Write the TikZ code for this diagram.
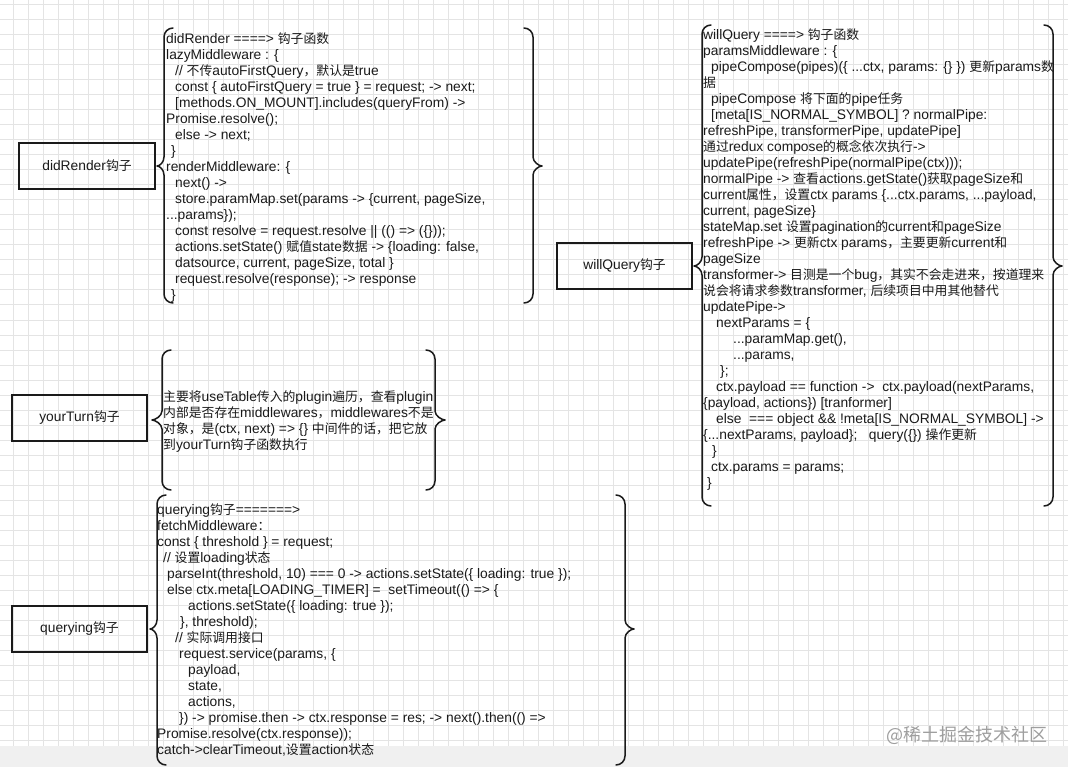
\documentclass[tikz,border=0pt]{standalone}
\usepackage{fontspec}
\setmainfont{Liberation Sans}
\newfontfamily\cjkf[Scale=0.93]{Noto Sans CJK SC}
\newfontfamily\wmf{Noto Sans CJK SC}
\newcommand\zh[1]{{\cjkf #1}}
\newcommand\fl{\rule{0pt}{13pt}}
\newcommand\ind[1]{\hspace*{#1pt}}
\definecolor{gridc}{HTML}{E4E4E4}
\definecolor{bandc}{HTML}{F0F0F0}
\definecolor{inkc}{HTML}{1A1A1A}
% curly brackets: xv, top, bottom, tip y, tip x
\newcommand\bracel[5]{%
  \draw[brace] (#1+9,#2) .. controls (#1+4,#2) and (#1,#2+4) .. (#1,#2+9) -- (#1,#4-9)
    .. controls (#1,#4-4) and (#5+3,#4) .. (#5,#4) .. controls (#5+3,#4) and (#1,#4+4) .. (#1,#4+9)
    -- (#1,#3-9) .. controls (#1,#3-4) and (#1+4,#3) .. (#1+9,#3);}
\newcommand\bracer[5]{%
  \draw[brace] (#1-9,#2) .. controls (#1-4,#2) and (#1,#2+4) .. (#1,#2+9) -- (#1,#4-9)
    .. controls (#1,#4-4) and (#5-3,#4) .. (#5,#4) .. controls (#5-3,#4) and (#1,#4+4) .. (#1,#4+9)
    -- (#1,#3-9) .. controls (#1,#3-4) and (#1-4,#3) .. (#1-9,#3);}
\tikzset{
  hookbox/.style={draw=inkc, line width=1.7pt, minimum width=135.5pt, minimum height=46.5pt,
    inner sep=0pt, font=\fontsize{13.8}{16}\selectfont, text=inkc},
  codeblock/.style={anchor=north west, inner sep=0pt, align=left,
    font=\fontsize{13.8}{16}\selectfont, text=inkc},
  brace/.style={draw=inkc, line width=1.5pt, line join=round, line cap=round},
  wm/.style={font=\wmf\fontsize{18}{20}\selectfont, text=black!38, inner sep=0pt},
}
\begin{document}
\begin{tikzpicture}[x=1pt,y=-1pt]
\useasboundingbox (0,0) rectangle (1068,767);
\fill[white] (0,0) rectangle (1068,767);
% grid
\foreach \gx in {13,28,...,1068} \draw[gridc, line width=1pt] (\gx,0) -- (\gx,767);
\foreach \gy in {5,20,...,767} \draw[gridc, line width=1pt] (0,\gy) -- (1068,\gy);
\fill[bandc] (0,746) rectangle (1068,767);

% hook boxes
\node[hookbox] (didbox) at (87,166) {didRender\zh{钩子}};
\node[hookbox] (yourbox) at (79.5,418) {yourTurn\zh{钩子}};
\node[hookbox] (querybox) at (79.5,629) {querying\zh{钩子}};
\node[hookbox] (willbox) at (624.5,266) {willQuery\zh{钩子}};

% braces
\bracel{164}{28}{303}{166}{157}
\bracer{533}{28}{303}{166}{542}
\bracel{162}{350}{490}{420}{152}
\bracer{435}{350}{490}{420}{445}
\bracel{157}{495}{765}{629}{150}
\bracer{625}{495}{765}{629}{634}
\bracel{702}{25}{506}{266}{694}
\bracer{1053}{25}{506}{266}{1062}

% text blocks
\node[codeblock] (didtext) at (166,30) {\fl didRender ====> \zh{钩子函数}\\
lazyMiddleware : \{\\
\ind{9}// \zh{不传}autoFirstQuery\zh{，默认是}true\\
\ind{9}const \{ autoFirstQuery = true \} = request; -> next;\\
\ind{9}{[}methods.ON\_MOUNT].includes(queryFrom) ->\\
Promise.resolve();\\
\ind{9}else -> next;\\
\ind{5}\}\\
renderMiddleware: \{\\
\ind{9}next() ->\\
\ind{9}store.paramMap.set(params -> \{current, pageSize,\\
...params\});\\
\ind{9}const resolve = request.resolve || (() => (\{\}));\\
\ind{9}actions.setState() \zh{赋值}state\zh{数据} -> \{loading: false,\\
\ind{9}datsource, current, pageSize, total \}\\
\ind{9}request.resolve(response); -> response\\
\ind{5}\}};

\node[codeblock] (yourtext) at (163,388.5) {\fl\zh{主要将}useTable\zh{传入的}plugin\zh{遍历，查看}plugin\\
\zh{内部是否存在}middlewares\zh{，}middlewares\zh{不是}\\
\zh{对象，是}(ctx, next) => \{\} \zh{中间件的话，把它放}\\
\zh{到}yourTurn\zh{钩子函数执行}};

\node[codeblock] (querytext) at (157,501) {\fl querying\zh{钩子}=======>\\
fetchMiddleware\zh{：}\\
const \{ threshold \} = request;\\
\ind{6}// \zh{设置}loading\zh{状态}\\
\ind{10}parseInt(threshold, 10) === 0 -> actions.setState(\{ loading: true \});\\
\ind{10}else ctx.meta[LOADING\_TIMER] = \ setTimeout(() => \{\\
\ind{31}actions.setState(\{ loading: true \});\\
\ind{23}\}, threshold);\\
\ind{18}// \zh{实际调用接口}\\
\ind{22}request.service(params, \{\\
\ind{31}payload,\\
\ind{31}state,\\
\ind{31}actions,\\
\ind{22}\}) -> promise.then -> ctx.response = res; -> next().then(() =>\\
Promise.resolve(ctx.response));\\
catch->clearTimeout,\zh{设置}action\zh{状态}};

\node[codeblock] (willtext) at (703,26) {\fl willQuery ====> \zh{钩子函数}\\
paramsMiddleware : \{\\
\ind{8}pipeCompose(pipes)(\{ ...ctx, params: \{\} \}) \zh{更新}params\zh{数}\\
\zh{据}\\
\ind{8}pipeCompose \zh{将下面的}pipe\zh{任务}\\
\ind{8}[meta[IS\_NORMAL\_SYMBOL] ? normalPipe:\\
refreshPipe, transformerPipe, updatePipe]\\
\zh{通过}redux compose\zh{的概念依次执行}->\\
updatePipe(refreshPipe(normalPipe(ctx)));\\
normalPipe -> \zh{查看}actions.getState()\zh{获取}pageSize\zh{和}\\
current\zh{属性，设置}ctx params \{...ctx.params, ...payload,\\
current, pageSize\}\\
stateMap.set \zh{设置}pagination\zh{的}current\zh{和}pageSize\\
refreshPipe -> \zh{更新}ctx params\zh{，主要更新}current\zh{和}\\
pageSize\\
transformer-> \zh{目测是一个}bug\zh{，其实不会走进来，按道理来}\\
\zh{说会将请求参数}transformer, \zh{后续项目中用其他替代}\\
updatePipe->\\
\ind{13}nextParams = \{\\
\ind{30}...paramMap.get(),\\
\ind{30}...params,\\
\ind{17}\};\\
\ind{13}ctx.payload == function -> \ ctx.payload(nextParams,\\
\{payload, actions\}) [tranformer]\\
\ind{13}else \ === object \&\& !meta[IS\_NORMAL\_SYMBOL] ->\\
\{...nextParams, payload\}; \ \ query(\{\}) \zh{操作更新}\\
\ind{9}\}\\
\ind{8}ctx.params = params;\\
\ind{4}\}};

% watermark
\node[wm, anchor=west] (wmark) at (886,735) {@稀土掘金技术社区};
\end{tikzpicture}
\end{document}
